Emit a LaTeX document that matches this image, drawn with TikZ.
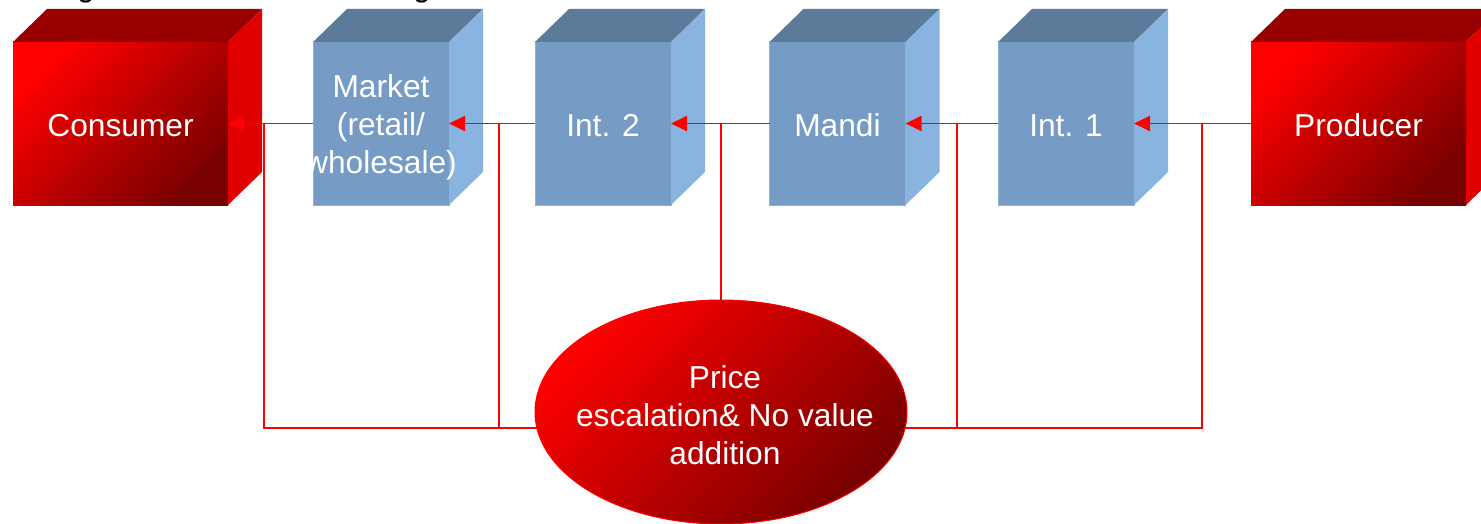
\documentclass[tikz,border=0pt]{standalone}
\usepackage{fontspec}
\setmainfont{Liberation Sans}
\usetikzlibrary{arrows.meta,shapes.geometric}
\definecolor{rtop}{HTML}{990000}
\definecolor{rright}{HTML}{E00000}
\definecolor{rlight}{HTML}{FF0000}
\definecolor{rdark}{HTML}{780000}
\definecolor{btop}{HTML}{5C7B9A}
\definecolor{bright}{HTML}{8AB4E0}
\definecolor{bfront}{HTML}{769CC6}
\definecolor{bedge}{HTML}{8DB0D6}
\definecolor{linecol}{HTML}{FF0000}
\newcommand\cubefaces[3]{%
  \fill[#2] (#1.north west) -- ([shift={(34,-33)}]#1.north west) -- ([shift={(34,-33)}]#1.north east) -- (#1.north east) -- cycle;
  \fill[#3] (#1.north east) -- ([shift={(34,-33)}]#1.north east) -- ([shift={(34,-33)}]#1.south east) -- (#1.south east) -- cycle;
}
\tikzset{
  face/.style={inner sep=0pt, outer sep=0pt, text=white, font=\fontsize{31.7}{38}\selectfont, align=center},
  redfront/.style={face, top color=rlight, bottom color=rdark, shading angle=45, minimum width=215pt, minimum height=163pt},
  bluefront/.style={face, fill=bfront, draw=bedge, line width=1pt, minimum width=136pt, minimum height=163pt},
  lbl/.style={face},
  link/.style={draw=linecol, line width=1.8pt},
  arr/.style={link, -{Triangle[length=16pt,width=15pt]}},
}
\begin{document}
\begin{tikzpicture}[x=1pt,y=-1pt]
\useasboundingbox (0,0) rectangle (1481,524);
\clip (0,0) rectangle (1481,524);
\fill[white] (0,0) rectangle (1481,524);
% cut-off title fragments
\node[face, text=black, anchor=base] (t1) at (86,-3) {g};
\node[face, text=black, anchor=base] (t2) at (422,-3) {g};
% front faces
\node[redfront] (consumer) at (120.5,123.5) {};
\node[bluefront] (market) at (381,123.5) {};
\node[bluefront] (int2) at (603,123.5) {};
\node[bluefront] (mandi) at (837.5,123.5) {};
\node[bluefront] (int1) at (1066,123.5) {};
\node[redfront] (producer) at (1358.5,123.5) {};
% cube top and side faces
\cubefaces{consumer}{rtop}{rright}
\cubefaces{market}{btop}{bright}
\cubefaces{int2}{btop}{bright}
\cubefaces{mandi}{btop}{bright}
\cubefaces{int1}{btop}{bright}
\cubefaces{producer}{rtop}{rright}
% labels
\node[lbl] (consumerlbl) at ([yshift=-2]consumer.center) {Consumer};
\node[lbl] (marketlbl) at ([yshift=-4]market.center) {Market\\(retail/\\wholesale)};
\node[lbl] (int2lbl) at ([yshift=-2]int2.center) {Int. 2};
\node[lbl] (mandilbl) at ([yshift=-2]mandi.center) {Mandi};
\node[lbl] (int1lbl) at ([yshift=-2]int1.center) {Int. 1};
\node[lbl] (producerlbl) at ([yshift=-2]producer.center) {Producer};
% ellipse
\node[ellipse, inner sep=0pt, outer sep=0pt, minimum width=372pt, minimum height=224pt, top color=rlight, bottom color=rdark, shading angle=45, draw=linecol, line width=1pt] (ell) at (721,412) {};
\node[lbl] (elllbl) at (725,415) {Price\\escalation\& No value\\addition};
% arrows
\draw[arr] (market.west) -- (consumer.east);
\draw[arr] (int2.west) -- (market.east);
\draw[arr] (mandi.west) -- (int2.east);
\draw[arr] (int1.west) -- (mandi.east);
\draw[arr] (producer.west) -- (int1.east);
% junctions
\coordinate (j1) at (264,123.5);
\coordinate (j2) at (499,123.5);
\coordinate (j3) at (721,123.5);
\coordinate (j4) at (957,123.5);
\coordinate (j5) at (1202,123.5);
\draw[link] (j1) |- (ell.185.6);
\draw[link] (j2) -- (j2 |- ell.185.6);
\draw[link] (j3) -- (ell.north);
\draw[link] (j5) |- (ell.-5.6);
\draw[link] (j4) -- (j4 |- ell.-5.6);
\end{tikzpicture}
\end{document}
